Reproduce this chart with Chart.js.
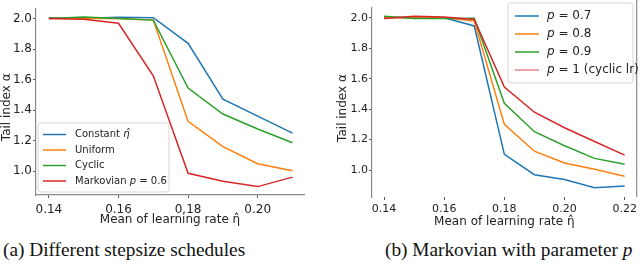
<!DOCTYPE html>
<html lang="en">
<head>
<meta charset="UTF-8">
<title>Tail index vs mean learning rate</title>
<script src="https://cdn.jsdelivr.net/npm/chart.js@4.4.1/dist/chart.umd.min.js"></script>
<style>
    html, body { margin: 0; padding: 0; background: #fff; }
    #wrap { position: relative; width: 640px; height: 268px; overflow: hidden; }
    .panel { position: absolute; top: 0; width: 320px; height: 232px; }
    .cap {
        position: absolute; top: 239px;
        font-family: 'Liberation Serif', 'DejaVu Serif', serif;
        font-size: 19.3px; color: #111; white-space: nowrap;
    }
</style>
</head>
<body>
<div id="wrap">
    <div class="panel" style="left:0"><canvas id="chartA"></canvas></div>
    <div class="panel" style="left:320px"><canvas id="chartB"></canvas></div>
    <div class="cap" style="left:3px">(a) Different stepsize schedules</div>
    <div class="cap" style="left:385px">(b) Markovian with parameter <i>p</i></div>
</div>

<script>
    // --- datos ---
    const xLeft = [0.14, 0.15, 0.16, 0.17, 0.18, 0.19, 0.20, 0.21];
    const constantEta = [2.005, 2.0, 2.008, 2.006, 1.838, 1.473, 1.361, 1.25];
    const uniform = [2.0, 2.0, 2.0, 1.99, 1.327, 1.162, 1.05, 1.004];
    const cyclic = [2.0, 2.01, 2.0, 1.99, 1.545, 1.375, 1.277, 1.187];
    const markov06 = [2.0, 1.995, 1.969, 1.625, 0.987, 0.935, 0.9, 0.962];

    const xRight = [0.14, 0.15, 0.16, 0.17, 0.18, 0.19, 0.20, 0.21, 0.22];
    const p07 = [2.005, 2.0, 2.0, 1.946, 1.103, 0.97, 0.938, 0.885, 0.895];
    const p08 = [2.0, 2.0, 2.0, 1.978, 1.30, 1.124, 1.047, 1.006, 0.96];
    const p09 = [2.01, 1.995, 1.995, 1.996, 1.438, 1.252, 1.16, 1.077, 1.038];
    const p10 = [1.995, 2.01, 2.005, 1.989, 1.545, 1.38, 1.278, 1.188, 1.098];

    const yTicks = [1.0, 1.2, 1.4, 1.6, 1.8, 2.0];
    const xTicksLeft = [0.14, 0.16, 0.18, 0.20];
    const xTicksRight = [0.14, 0.16, 0.18, 0.20, 0.22];

    const BLUE = '#1f77b4', ORANGE = '#ff7f0e', GREEN = '#2ca02c', RED = '#d62728';
    const SPINE = '#8a8a8a';
    const FONT = 'DejaVu Sans';

    function serie(label, xs, ys, color, order, legendColor) {
        return {
            label: label,
            data: xs.map((x, i) => ({ x: x, y: ys[i] })),
            borderColor: color,
            legendColor: legendColor || color,
            borderWidth: 1.5,
            pointRadius: 0,
            fill: false,
            tension: 0,
            order: order
        };
    }

    // leyenda con marco dentro del área del gráfico (como matplotlib)
    const boxLegend = {
        id: 'boxLegend',
        afterDatasetsDraw(chart, args, o) {
            const ctx = chart.ctx;
            const a = chart.chartArea;
            ctx.save();

            if (o.rightSpine) {
                ctx.strokeStyle = SPINE;
                ctx.lineWidth = 1.2;
                ctx.beginPath();
                ctx.moveTo(a.right, 0);
                ctx.lineTo(a.right, a.bottom);
                ctx.stroke();
            }

            const x = o.x, y = o.y, w = o.w, h = o.h, r = 3;
            ctx.beginPath();
            ctx.moveTo(x + r, y);
            ctx.lineTo(x + w - r, y);
            ctx.quadraticCurveTo(x + w, y, x + w, y + r);
            ctx.lineTo(x + w, y + h - r);
            ctx.quadraticCurveTo(x + w, y + h, x + w - r, y + h);
            ctx.lineTo(x + r, y + h);
            ctx.quadraticCurveTo(x, y + h, x, y + h - r);
            ctx.lineTo(x, y + r);
            ctx.quadraticCurveTo(x, y, x + r, y);
            ctx.closePath();
            ctx.fillStyle = 'rgba(255,255,255,0.8)';
            ctx.fill();
            ctx.strokeStyle = '#d6d6d6';
            ctx.lineWidth = 1;
            ctx.stroke();

            ctx.textBaseline = 'middle';
            chart.data.datasets.forEach((ds, i) => {
                const ry = y + o.rowTop + i * o.rowGap;
                ctx.strokeStyle = ds.legendColor;
                ctx.lineWidth = 1.5;
                ctx.beginPath();
                ctx.moveTo(x + o.line0, ry);
                ctx.lineTo(x + o.line1, ry);
                ctx.stroke();

                let tx = x + o.textX;
                ctx.fillStyle = '#222';
                ds.label.split(/(\bp\b|η̂)/).forEach(part => {
                    if (!part) return;
                    const italic = part === 'p' || part === 'η̂';
                    ctx.font = (italic ? 'italic ' : '') + o.fontSize + 'px "' + FONT + '"';
                    ctx.fillText(part, tx, ry);
                    tx += ctx.measureText(part).width;
                });
            });
            ctx.restore();
        }
    };

    function ejes(opts) {
        const tickFont = { size: opts.tickSize, family: FONT };
        return {
            x: {
                type: 'linear',
                min: opts.xmin, max: opts.xmax,
                afterBuildTicks: s => { s.ticks = opts.xTicks.map(v => ({ value: v })); },
                afterFit: s => { s.height = opts.xHeight; },
                ticks: { font: tickFont, color: '#222', padding: opts.xTickPad, maxRotation: 0, autoSkip: false,
                         callback: v => v.toFixed(2) },
                grid: { drawOnChartArea: false, tickLength: 3, color: '#555' },
                border: { display: opts.bottomSpine, color: SPINE, width: 1.2 },
                title: { display: true, text: 'Mean of learning rate η̂', color: '#222',
                         font: { size: opts.titleSize, family: FONT }, padding: { top: 0, bottom: opts.xTitlePad } }
            },
            y: {
                type: 'linear',
                min: opts.ymin, max: opts.ymax,
                afterBuildTicks: s => { s.ticks = yTicks.map(v => ({ value: v })); },
                afterFit: s => { s.width = opts.yWidth; },
                ticks: { font: tickFont, color: '#222', padding: 1, callback: v => v.toFixed(1) },
                grid: { drawOnChartArea: false, tickLength: 3, color: '#555' },
                border: { display: true, color: SPINE, width: 1.2 },
                title: { display: true, text: 'Tail index α   ', color: '#222',
                         font: { size: opts.titleSize, family: FONT }, padding: { top: 0, bottom: 0 } }
            }
        };
    }

    new Chart(document.getElementById('chartA'), {
        type: 'line',
        data: {
            datasets: [
                serie('Constant η̂', xLeft, constantEta, BLUE, 4),
                serie('Uniform', xLeft, uniform, ORANGE, 3),
                serie('Cyclic', xLeft, cyclic, GREEN, 2),
                serie('Markovian p = 0.6', xLeft, markov06, RED, 1)
            ]
        },
        options: {
            responsive: true,
            maintainAspectRatio: false,
            animation: false,
            devicePixelRatio: 1,
            layout: { padding: { left: 0, top: 1, right: 16, bottom: 0 } },
            plugins: {
                legend: { display: false },
                tooltip: { enabled: false },
                boxLegend: { x: 38, y: 123, w: 131, h: 69, rowTop: 11.5, rowGap: 15.5,
                             line0: 5, line1: 28, textX: 37, fontSize: 10, rightSpine: false }
            },
            scales: ejes({ xmin: 0.1363, xmax: 0.2133, ymin: 0.845, ymax: 2.068,
                           xTicks: xTicksLeft, xHeight: 37, yWidth: 36, xTickPad: 5,
                           tickSize: 12, titleSize: 12, xTitlePad: 5, bottomSpine: true })
        },
        plugins: [boxLegend]
    });

    new Chart(document.getElementById('chartB'), {
        type: 'line',
        data: {
            datasets: [
                serie('p = 0.7', xRight, p07, BLUE, 4),
                serie('p = 0.8', xRight, p08, ORANGE, 3),
                serie('p = 0.9', xRight, p09, GREEN, 2),
                serie('p = 1 (cyclic lr)', xRight, p10, RED, 1, 'rgba(214,39,40,0.55)')
            ]
        },
        options: {
            responsive: true,
            maintainAspectRatio: false,
            animation: false,
            devicePixelRatio: 1,
            layout: { padding: { left: 16, top: 3, right: 2, bottom: 0 } },
            plugins: {
                legend: { display: false },
                tooltip: { enabled: false },
                boxLegend: { x: 188, y: 3, w: 125, h: 80, rowTop: 13, rowGap: 18,
                             line0: 7, line1: 31, textX: 39, fontSize: 12, rightSpine: true }
            },
            scales: ejes({ xmin: 0.136, xmax: 0.224, ymin: 0.8235, ymax: 2.0665,
                           xTicks: xTicksRight, xHeight: 35, yWidth: 36, xTickPad: 3,
                           tickSize: 11, titleSize: 12, xTitlePad: 3, bottomSpine: false })
        },
        plugins: [boxLegend]
    });
</script>
</body>
</html>
